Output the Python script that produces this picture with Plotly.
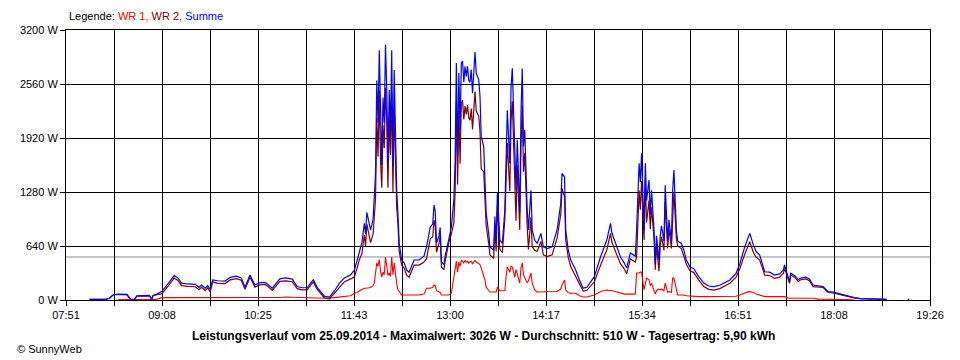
import plotly.graph_objects as go

# ---------------- data ----------------
times = [
    "08:10", "08:23", "08:26", "08:29", "08:33", "08:40", "08:43", "08:46", "08:48", "08:58",
    "09:00", "09:01", "09:04", "09:08", "09:13", "09:18", "09:21", "09:24", "09:29", "09:35",
    "09:38", "09:40", "09:43", "09:45", "09:47", "09:49", "09:53", "09:59", "10:03", "10:08",
    "10:12", "10:15", "10:19", "10:23", "10:27", "10:31", "10:33", "10:37", "10:43", "10:48",
    "10:53", "10:57", "11:01", "11:05", "11:08", "11:10", "11:13", "11:16", "11:19", "11:23",
    "11:27", "11:31", "11:35", "11:40", "11:43", "11:45", "11:47", "11:49", "11:51", "11:52",
    "11:53", "11:55", "11:56", "11:58", "11:59", "12:00", "12:01", "12:02", "12:03", "12:04",
    "12:05", "12:06", "12:07", "12:08", "12:09", "12:10", "12:11", "12:12", "12:13", "12:14",
    "12:15", "12:16", "12:17", "12:18", "12:19", "12:21", "12:23", "12:25", "12:27", "12:29",
    "12:31", "12:35", "12:39", "12:41", "12:44", "12:46", "12:47", "12:48", "12:49", "12:51",
    "12:52", "12:53", "12:55", "12:56", "12:59", "13:01", "13:03", "13:04", "13:05", "13:06",
    "13:07", "13:08", "13:09", "13:10", "13:11", "13:12", "13:13", "13:14", "13:15", "13:16",
    "13:17", "13:18", "13:19", "13:20", "13:21", "13:22", "13:23", "13:24", "13:25", "13:27",
    "13:28", "13:29", "13:31", "13:32", "13:35", "13:36", "13:37", "13:38", "13:40", "13:42",
    "13:44", "13:45", "13:46", "13:48", "13:49", "13:50", "13:52", "13:53", "13:54", "13:56",
    "13:57", "13:58", "13:59", "14:00", "14:02", "14:03", "14:05", "14:06", "14:08", "14:10",
    "14:13", "14:15", "14:18", "14:22", "14:26", "14:29", "14:30", "14:32", "14:33", "14:35",
    "14:37", "14:41", "14:44", "14:47", "14:50", "14:56", "15:01", "15:06", "15:09", "15:10",
    "15:13", "15:17", "15:20", "15:22", "15:25", "15:29", "15:30", "15:32", "15:33", "15:34",
    "15:36", "15:37", "15:38", "15:40", "15:41", "15:42", "15:44", "15:45", "15:46", "15:48",
    "15:49", "15:50", "15:52", "15:53", "15:55", "15:56", "15:58", "15:59", "16:00", "16:02",
    "16:03", "16:06", "16:08", "16:10", "16:13", "16:16", "16:20", "16:24", "16:28", "16:32",
    "16:37", "16:40", "16:45", "16:50", "16:53", "16:57", "17:00", "17:01", "17:04", "17:06",
    "17:09", "17:10", "17:13", "17:17", "17:21", "17:25", "17:28", "17:29", "17:32", "17:33",
    "17:34", "17:37", "17:40", "17:42", "17:46", "17:49", "17:52", "17:56", "18:00", "18:04",
    "18:08", "18:12", "18:17", "18:22", "18:25", "18:30", "18:40", "18:51", "18:52", "19:08",
    "19:09",
]

summe = [
    8, 8, 20, 62, 70, 66, 10, 8, 50, 55,
    12, 55, 70, 100, 190, 290, 262, 200, 190, 185,
    150, 178, 140, 172, 125, 237, 228, 225, 268, 282,
    262, 152, 296, 178, 205, 210, 190, 140, 250, 262,
    248, 160, 145, 145, 205, 240, 150, 90, 42, 35,
    110, 200, 262, 300, 355, 460, 590, 680, 910, 780,
    1040, 900, 830, 950, 1270, 1500, 2600, 2100, 2960, 2000,
    1600, 2400, 2100, 3026, 2500, 1620, 2490, 2000, 2960, 1580,
    2725, 2000, 1300, 1030, 675, 474, 440, 355, 330, 400,
    474, 474, 520, 630, 865, 900, 1125, 1050, 675, 760,
    860, 450, 420, 520, 747, 865, 1185, 1620, 2810, 1700,
    2690, 2015, 2810, 2830, 2580, 2770, 2650, 2770, 2600, 2580,
    2730, 2450, 2690, 2940, 2690, 2650, 2610, 2420, 1935, 1820,
    1420, 1030, 790, 630, 590, 990, 670, 1270, 710, 670,
    1067, 1700, 2250, 1620, 2530, 2745, 1620, 1300, 1900, 1030,
    2210, 2745, 1820, 2015, 1067, 830, 1300, 830, 710, 670,
    790, 630, 610, 630, 830, 1145, 1500, 1460, 830, 590,
    474, 355, 237, 140, 150, 276, 513, 711, 908, 800,
    675, 510, 440, 380, 557, 520, 830, 1620, 1400, 1740,
    830, 1620, 1180, 1420, 1010, 1300, 830, 430, 760, 470,
    760, 880, 700, 1360, 700, 950, 700, 1300, 1540, 830,
    700, 670, 590, 474, 390, 370, 276, 200, 166, 158,
    175, 200, 237, 316, 430, 630, 770, 790, 650, 580,
    533, 480, 335, 330, 296, 310, 355, 415, 276, 217,
    316, 290, 240, 260, 270, 250, 178, 165, 158, 99,
    95, 80, 59, 35, 28, 16, 12, 8, None, 8,
    8,
]

wr1 = [
    None, None, None, None, 5, 5, 5, 5, 5, 5,
    5, 5, 8, 28, 30, 30, 30, 30, 28, 28,
    28, 28, 28, 28, 28, 22, 30, 30, 30, 28,
    28, 25, 25, 25, 25, 25, 25, 25, 30, 35,
    32, 25, 25, 25, 25, 25, 22, 20, 20, 22,
    30, 40, 45, 50, 80, 90, 110, 130, 140, 140,
    140, 145, 150, 170, 200, 300, 440, 400, 480, 350,
    270, 330, 300, 510, 380, 290, 320, 280, 510, 300,
    440, 300, 200, 120, 95, 60, 60, 60, 60, 60,
    60, 60, 70, 140, 140, 150, 178, 170, 110, 90,
    90, 60, 60, 60, 60, 80, 270, 350, 460, 330,
    450, 400, 470, 460, 440, 470, 450, 460, 440, 450,
    460, 430, 450, 470, 450, 440, 430, 420, 380, 300,
    237, 150, 118, 95, 95, 95, 95, 150, 110, 110,
    110, 280, 390, 330, 400, 390, 270, 360, 300, 200,
    380, 440, 300, 270, 200, 230, 320, 200, 120, 95,
    95, 95, 95, 95, 100, 130, 178, 237, 120, 85,
    80, 80, 50, 35, 35, 60, 100, 118, 118, 110,
    100, 80, 70, 70, 70, 70, 320, 320, 330, 330,
    120, 200, 260, 240, 170, 200, 100, 70, 110, 130,
    120, 130, 110, 200, 90, 100, 90, 260, 260, 100,
    60, 60, 60, 50, 45, 45, 40, 40, 40, 40,
    40, 40, 40, 45, 60, 87, 99, 99, 90, 70,
    60, 50, 40, 40, 40, 40, 40, 40, 20, 20,
    20, 20, 20, 20, 20, 20, 20, 10, 10, 10,
    10, 10, 8, 5, 3, None, None, None, None, None,
    None,
]

wr2 = [
    8, 8, 20, 62, 65, 61, 5, 3, 45, 50,
    7, 50, 62, 72, 160, 260, 232, 170, 162, 157,
    122, 150, 112, 144, 97, 215, 198, 195, 238, 254,
    234, 127, 271, 153, 180, 185, 165, 115, 220, 227,
    216, 135, 120, 120, 180, 215, 128, 70, 22, 13,
    80, 160, 217, 250, 275, 370, 480, 550, 770, 640,
    900, 755, 680, 780, 1070, 1200, 2160, 1700, 2480, 1650,
    1330, 2070, 1800, 2516, 2120, 1330, 2170, 1720, 2450, 1280,
    2285, 1700, 1100, 910, 580, 414, 380, 295, 270, 340,
    414, 414, 450, 490, 725, 750, 947, 880, 565, 670,
    770, 390, 360, 460, 687, 785, 915, 1270, 2350, 1370,
    2240, 1615, 2340, 2370, 2140, 2300, 2200, 2310, 2160, 2130,
    2270, 2020, 2240, 2470, 2240, 2210, 2180, 2000, 1555, 1520,
    1183, 880, 672, 535, 495, 895, 575, 1120, 600, 560,
    957, 1420, 1860, 1290, 2130, 2355, 1350, 940, 1600, 830,
    1830, 2305, 1520, 1745, 867, 600, 980, 630, 590, 575,
    695, 535, 515, 535, 730, 1015, 1322, 1223, 710, 505,
    394, 275, 187, 105, 115, 216, 413, 593, 790, 690,
    575, 430, 370, 310, 487, 450, 510, 1300, 1070, 1410,
    710, 1420, 920, 1180, 840, 1100, 730, 360, 650, 340,
    640, 750, 590, 1160, 610, 850, 610, 1040, 1280, 730,
    640, 610, 530, 424, 345, 325, 236, 160, 126, 118,
    135, 160, 197, 271, 370, 543, 671, 691, 560, 510,
    473, 430, 295, 290, 256, 270, 315, 375, 256, 197,
    296, 270, 220, 240, 250, 230, 158, 155, 148, 89,
    85, 70, 51, 30, 25, 16, 12, 8, None, None,
    None,
]

x_tick_labels = ["07:51", "09:08", "10:25", "11:43", "13:00",
                 "14:17", "15:34", "16:51", "18:08", "19:26"]
y_tick_values = [0, 640, 1280, 1920, 2560, 3200]
y_tick_labels = ["0 W", "640 W", "1280 W", "1920 W", "2560 W", "3200 W"]
durchschnitt = 510
title_text = ("Leistungsverlauf vom 25.09.2014 - Maximalwert: 3026 W - "
              "Durchschnitt: 510 W - Tagesertrag: 5,90 kWh")

# ---------------- helpers ----------------
def to_min(s):
    h, m = s.split(":")
    return int(h) * 60 + int(m)

t = [to_min(s) for s in times]
x0 = to_min(x_tick_labels[0])
x1 = to_min(x_tick_labels[-1])
n_grid = 2 * (len(x_tick_labels) - 1)
grid_vals = [x0 + i * (x1 - x0) / n_grid for i in range(n_grid + 1)]
grid_text = [x_tick_labels[i // 2] if i % 2 == 0 else "" for i in range(n_grid + 1)]

FONT = "Liberation Sans, Arial, sans-serif"

# page body has an 8px default margin -> figure is 952x352, placed at (8, 8)
PAD = 8
PLOT_L, PLOT_R, PLOT_T, PLOT_B = 60, 930, 30, 300   # page pixels of plot area
PW, PH = PLOT_R - PLOT_L, PLOT_B - PLOT_T

def px(xp):
    return (xp - PLOT_L) / PW

def py(yp):
    return (PLOT_B - yp) / PH

fig = go.Figure()
fig.add_trace(go.Scatter(x=t, y=wr1, mode="lines", name="WR 1",
                         line=dict(color="#FF0000", width=1.1), connectgaps=False))
fig.add_trace(go.Scatter(x=t, y=wr2, mode="lines", name="WR 2",
                         line=dict(color="#800000", width=1.2), connectgaps=False))
fig.add_trace(go.Scatter(x=t, y=summe, mode="lines", name="Summe",
                         line=dict(color="#0000FF", width=1.2), connectgaps=False))

fig.add_shape(type="line", xref="paper", x0=0, x1=1, yref="y",
              y0=durchschnitt, y1=durchschnitt,
              line=dict(color="#8C8C8C", width=1), layer="below")

axis_common = dict(showgrid=True, gridcolor="black", gridwidth=1,
                   showline=True, linecolor="black", linewidth=1, mirror=True,
                   ticks="outside", ticklen=5, tickcolor="black", tickwidth=1,
                   zeroline=False, fixedrange=True,
                   tickfont=dict(family=FONT, size=11, color="black"))

fig.update_xaxes(range=[x0, x1], tickmode="array", tickvals=grid_vals,
                 ticktext=grid_text, **axis_common)
fig.update_yaxes(range=[0, 3200], tickmode="array", tickvals=y_tick_values,
                 ticktext=y_tick_labels, **axis_common)

fig.update_layout(
    width=960 - PAD, height=360 - PAD,
    margin=dict(l=PLOT_L - PAD, r=960 - PLOT_R, t=PLOT_T - PAD, b=360 - PLOT_B),
    plot_bgcolor="white", paper_bgcolor="white",
    showlegend=False,
    font=dict(family=FONT, size=11, color="black"),
)

fig.add_annotation(
    xref="paper", yref="paper", x=px(61), y=py(16),
    xanchor="left", yanchor="middle", showarrow=False,
    text=('Legende: <span style="color:#FF0000">WR 1,</span> '
          '<span style="color:#800000">WR 2,</span> '
          '<span style="color:#0000FF">Summe</span>'),
    font=dict(family=FONT, size=11, color="black"),
)
fig.add_annotation(
    xref="paper", yref="paper", x=px(480), y=py(336),
    xanchor="center", yanchor="middle", showarrow=False,
    text="<b>" + title_text + "</b>",
    font=dict(family=FONT, size=12, color="black"),
)
fig.add_annotation(
    xref="paper", yref="paper", x=px(PAD + 1), y=py(349),
    xanchor="left", yanchor="middle", showarrow=False,
    text="© SunnyWeb",
    font=dict(family=FONT, size=11, color="black"),
)

fig.write_html("out.html")
